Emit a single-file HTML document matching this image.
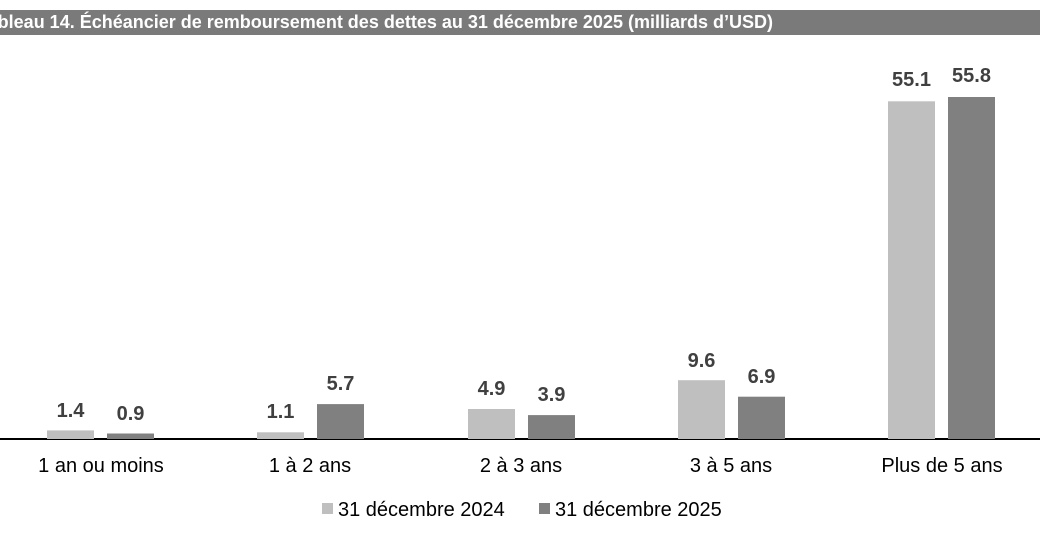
<!DOCTYPE html>
<html><head><meta charset="utf-8"><style>
body{margin:0;width:1040px;height:546px;background:#fff;overflow:hidden;position:relative;font-family:"Liberation Sans",Arial,sans-serif}
.title{position:absolute;left:0;top:10px;width:1040px;height:25px;background:#7a7a7a;overflow:hidden}
.title span{position:absolute;left:-22px;top:2px;color:#fff;font-weight:bold;font-size:18px;white-space:nowrap}
</style></head><body>
<div class="title"><span>Tableau 14. Échéancier de remboursement des dettes au 31 décembre 2025 (milliards d’USD)</span></div>
<svg width="1040" height="546" style="position:absolute;left:0;top:0" font-family="Liberation Sans, Arial, sans-serif">
<line x1="0" y1="439" x2="1040" y2="439" stroke="#000" stroke-width="2"/>
<g font-size="20" font-weight="bold" fill="#404040" text-anchor="middle">
<rect x="47" y="430.4" width="47" height="8.6" fill="#bfbfbf"/><text x="70.5" y="417">1.4</text>
<rect x="107" y="433.5" width="47" height="5.5" fill="#808080"/><text x="130.5" y="420">0.9</text>
<rect x="257" y="432.3" width="47" height="6.7" fill="#bfbfbf"/><text x="280.5" y="418">1.1</text>
<rect x="317" y="404.1" width="47" height="34.9" fill="#808080"/><text x="340.5" y="390">5.7</text>
<rect x="468" y="409" width="47" height="30" fill="#bfbfbf"/><text x="491.5" y="395">4.9</text>
<rect x="528" y="415.1" width="47" height="23.9" fill="#808080"/><text x="551.5" y="401">3.9</text>
<rect x="678" y="380.2" width="47" height="58.8" fill="#bfbfbf"/><text x="701.5" y="367">9.6</text>
<rect x="738" y="396.7" width="47" height="42.3" fill="#808080"/><text x="761.5" y="383">6.9</text>
<rect x="888" y="101.3" width="47" height="337.7" fill="#bfbfbf"/><text x="911.5" y="86">55.1</text>
<rect x="948" y="97" width="47" height="342" fill="#808080"/><text x="971.5" y="82">55.8</text>
</g>
<g font-size="20" fill="#000" text-anchor="middle">
<text x="101" y="472">1 an ou moins</text>
<text x="310" y="472">1 à 2 ans</text>
<text x="521" y="472">2 à 3 ans</text>
<text x="731" y="472">3 à 5 ans</text>
<text x="942" y="472">Plus de 5 ans</text>
</g>
<rect x="322" y="503" width="11" height="11" fill="#bfbfbf"/>
<text x="338" y="516" font-size="20" fill="#000">31 décembre 2024</text>
<rect x="539" y="503" width="11" height="11" fill="#808080"/>
<text x="555" y="516" font-size="20" fill="#000">31 décembre 2025</text>
</svg>
</body></html>
